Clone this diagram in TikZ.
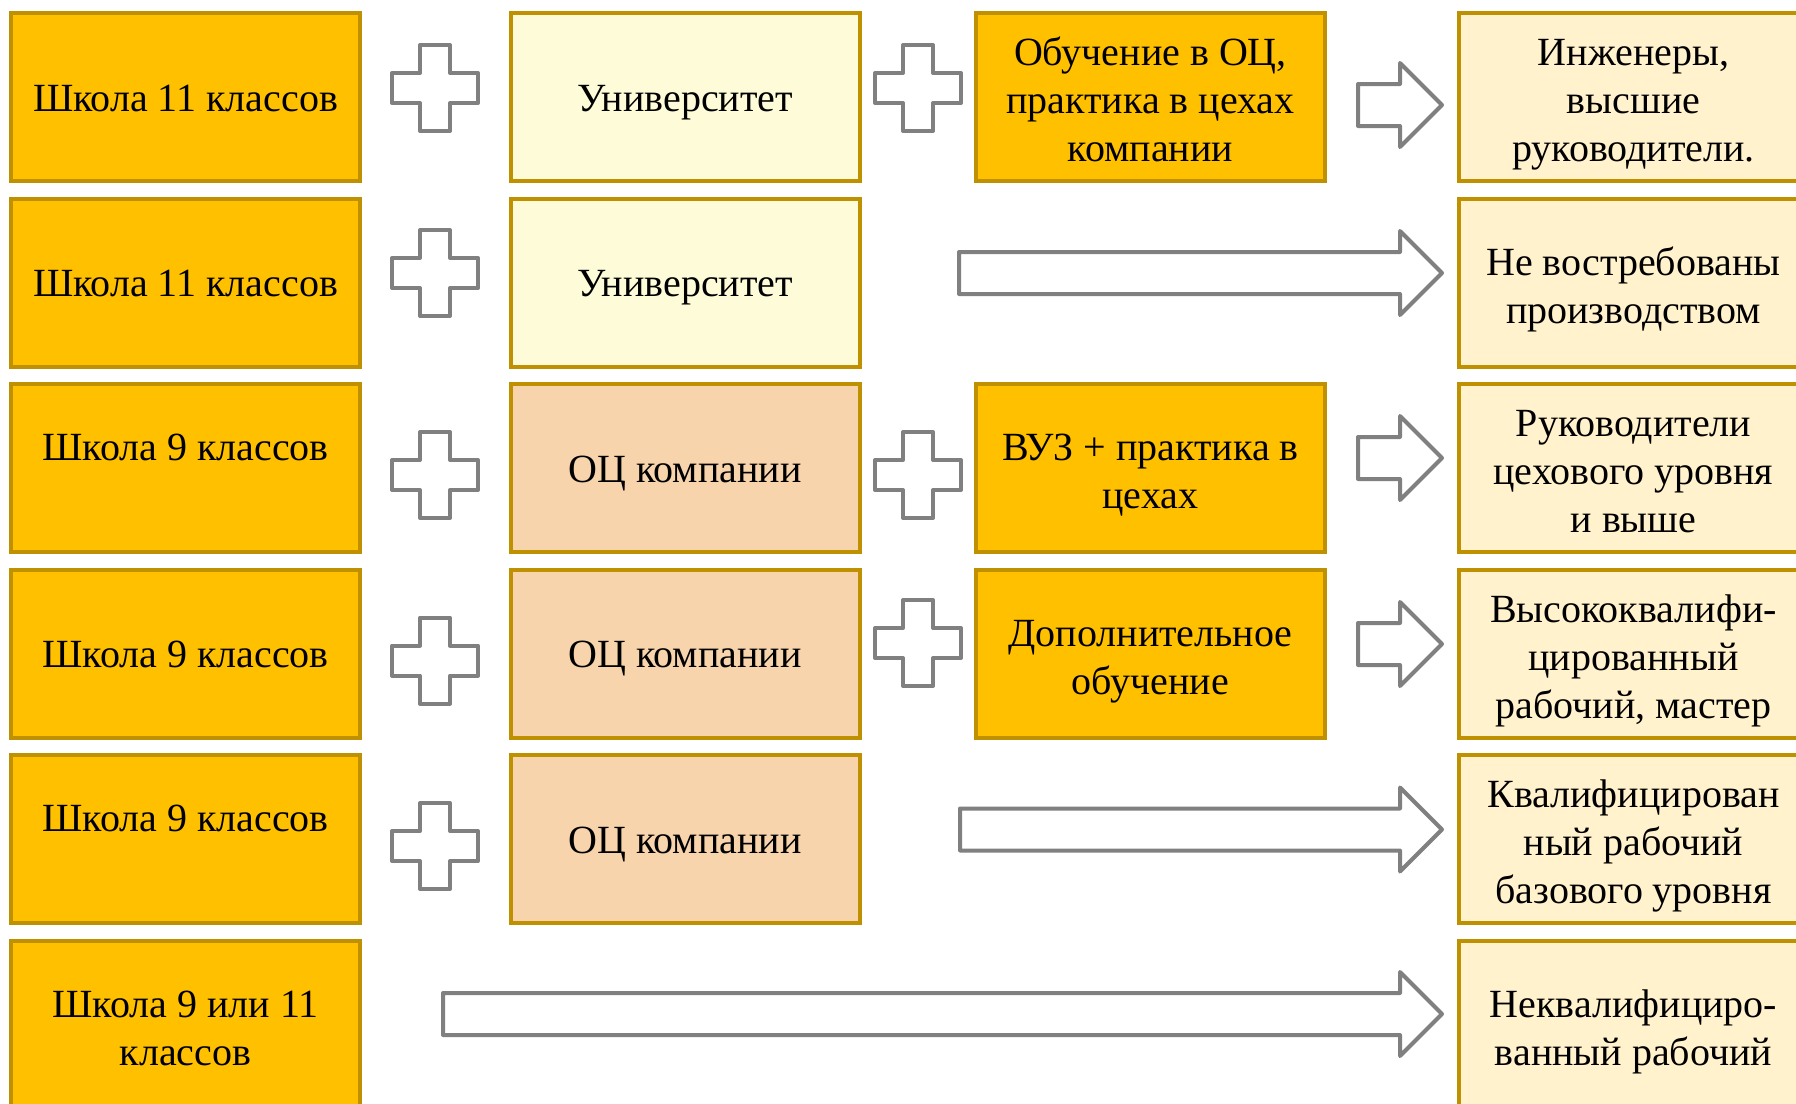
\documentclass[tikz,border=0pt]{standalone}
\usepackage{fontspec}
\setmainfont{Liberation Serif}

\definecolor{gold}{HTML}{FFC000}
\definecolor{goldline}{HTML}{BF9000}
\definecolor{paleyellow}{HTML}{FEFCD8}
\definecolor{peach}{HTML}{F7D4AC}
\definecolor{cream}{HTML}{FFF2CC}
\definecolor{signgrey}{HTML}{808080}

% plus sign, centre x / centre y
\newcommand{\plussign}[2]{%
  \draw[sign] (#1-15,#2-43) -- (#1+15,#2-43) -- (#1+15,#2-15) -- (#1+43,#2-15)
    -- (#1+43,#2+15) -- (#1+15,#2+15) -- (#1+15,#2+43) -- (#1-15,#2+43)
    -- (#1-15,#2+15) -- (#1-43,#2+15) -- (#1-43,#2-15) -- (#1-15,#2-15) -- cycle;}

% block arrow, start x / centre y
\newcommand{\blockarrow}[2]{%
  \draw[sign] (#1,#2-21) -- (1400,#2-21) -- (1400,#2-42) -- (1442,#2)
    -- (1400,#2+42) -- (1400,#2+21) -- (#1,#2+21) -- cycle;}

\newcommand{\linestrut}{\rule[-5pt]{0pt}{24pt}}
\newcommand{\fs}{\rule{0pt}{21.5pt}}

\begin{document}
\begin{tikzpicture}[x=0.5pt, y=-0.5pt, node distance=92.75pt,
    box/.style={rectangle, draw=goldline, line width=2pt, minimum width=174.5pt, minimum height=84pt, inner sep=0pt, align=center,
      font=\rmfamily\fontsize{20}{24}\selectfont, execute at begin node=\linestrut, execute at end node=\linestrut},
    sign/.style={draw=signgrey, fill=white, line width=2pt, line join=round}]
    \clip (0,0) rectangle (1796,1104);
    \fill[white] (0,0) rectangle (1796,1104);

    % Schools
    \node[box, fill=gold] (school1) at (185.5,97) {Школа 11 классов};
    \node[box, fill=gold, below of=school1] (school2) {Школа 11 классов};
    \node[box, fill=gold, below of=school2] (school3) {\fs Школа 9 классов\\};
    \node[box, fill=gold, below of=school3] (school4) {Школа 9 классов};
    \node[box, fill=gold, below of=school4] (school5) {\fs Школа 9 классов\\};
    \node[box, fill=gold, below of=school5] (school6) {\fs Школа 9 или 11\\классов};

    % Second step
    \node[box, fill=paleyellow] (uni1) at (685,97) {Университет};
    \node[box, fill=paleyellow, below of=uni1] (uni2) {Университет};
    \node[box, fill=peach, below of=uni2] (oc3) {ОЦ компании};
    \node[box, fill=peach, below of=oc3] (oc4) {ОЦ компании};
    \node[box, fill=peach, below of=oc4] (oc5) {ОЦ компании};

    % Third step
    \node[box, fill=gold] (extra1) at (1150.5,97) {\fs Обучение в ОЦ,\\практика в цехах\\компании};
    \node[box, fill=gold] (extra3) at (1150.5,468) {\fs ВУЗ + практика в\\цехах};
    \node[box, fill=gold, below of=extra3] (extra4) {\fs Дополнительное\\обучение};

    % Results
    \node[box, fill=cream] (result1) at (1633.5,97) {\fs Инженеры,\\высшие\\руководители.};
    \node[box, fill=cream, below of=result1] (result2) {\fs Не востребованы\\производством};
    \node[box, fill=cream, below of=result2] (result3) {\fs Руководители\\цехового уровня\\и выше};
    \node[box, fill=cream, below of=result3] (result4) {\fs Высококвалифи-\\цированный\\рабочий, мастер};
    \node[box, fill=cream, below of=result4] (result5) {\fs Квалифицирован\\ный рабочий\\базового уровня};
    \node[box, fill=cream, below of=result5] (result6) {\fs Неквалифициро-\\ванный рабочий};

    % Plus signs
    \plussign{435}{88}
    \plussign{435}{273}
    \plussign{435}{475}
    \plussign{435}{660.5}
    \plussign{435}{846}
    \plussign{918}{88}
    \plussign{918}{475}
    \plussign{918}{643}

    % Arrows
    \blockarrow{1358}{105}
    \blockarrow{959}{273}
    \blockarrow{1358}{458}
    \blockarrow{1358}{644}
    \blockarrow{960}{829.5}
    \blockarrow{443}{1014}
\end{tikzpicture}
\end{document}
